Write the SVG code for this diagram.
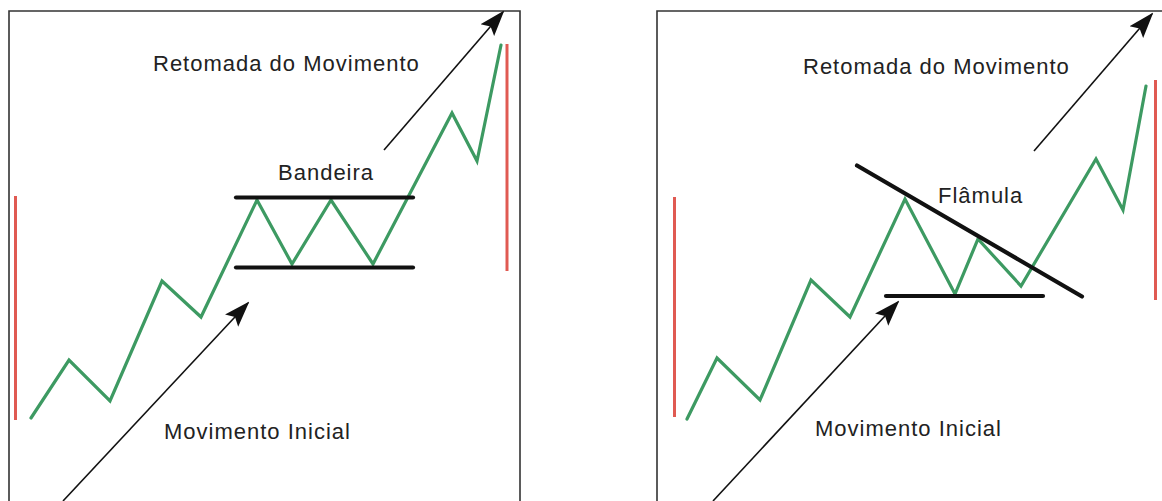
<svg xmlns="http://www.w3.org/2000/svg" width="1162" height="501" viewBox="0 0 1162 501">
<style>
.frame{fill:none;stroke:#333;stroke-width:1.6}
.price{fill:none;stroke:#3d9a62;stroke-width:3.2;stroke-linejoin:miter;stroke-linecap:round}
.range{stroke:#e05a52;stroke-width:3}
.bound{stroke:#111;stroke-width:4.2;stroke-linecap:round}
.conn{stroke:#111;stroke-width:1.6;fill:none;marker-end:url(#ah)}
.lbl{font-family:"Liberation Sans",Arial,sans-serif;font-size:22px;letter-spacing:1px;fill:#222}
</style>
<defs>
<marker id="ah" markerUnits="userSpaceOnUse" markerWidth="26" markerHeight="20" viewBox="0 0 26 20" refX="24" refY="10" orient="auto">
<path d="M0,1 L26,10 L0,19 L5,10 z" fill="#111"/>
</marker>
</defs>
<rect width="1162" height="501" fill="#fff"/>
<g id="panel-bandeira">
<path class="frame" d="M9,501 V11 H520 V501"/>
<line class="range" x1="15.5" y1="196" x2="15.5" y2="420"/>
<line class="range" x1="507" y1="44" x2="507" y2="271"/>
<polyline class="price" points="31,418 69,360 110,401 162,281 201,317 257,200 292,264 331,200 373,264 452,113 477,161 501,45"/>
<line class="bound" x1="236" y1="197.5" x2="413" y2="197.5"/>
<line class="bound" x1="236" y1="267.5" x2="413" y2="267.5"/>
<text class="lbl" x="153" y="71">Retomada do Movimento</text>
<text class="lbl" x="278" y="180">Bandeira</text>
<text class="lbl" x="164" y="439">Movimento Inicial</text>
</g>
<g id="panel-flamula">
<path class="frame" d="M657,501 V11 H1162"/>
<line class="range" x1="674.5" y1="197" x2="674.5" y2="417"/>
<line class="range" x1="1155.5" y1="80" x2="1155.5" y2="300"/>
<polyline class="price" points="687,419 717,358 760,400 811,280 850,317 905,199 955,294 978,239 1021,286 1096,159 1123,210 1146,86"/>
<line class="bound" x1="886" y1="296" x2="1043" y2="296"/>
<line class="bound" x1="857" y1="165.5" x2="1082" y2="296.5"/>
<text class="lbl" x="803" y="74">Retomada do Movimento</text>
<text class="lbl" x="938" y="203">Flâmula</text>
<text class="lbl" x="815" y="436">Movimento Inicial</text>
</g>
<g id="connectors">
<line class="conn" x1="63" y1="501" x2="248" y2="303"/>
<line class="conn" x1="384" y1="150" x2="503" y2="12"/>
<line class="conn" x1="713" y1="501" x2="898" y2="302"/>
<line class="conn" x1="1034" y1="151" x2="1152" y2="14"/>
</g>
</svg>
